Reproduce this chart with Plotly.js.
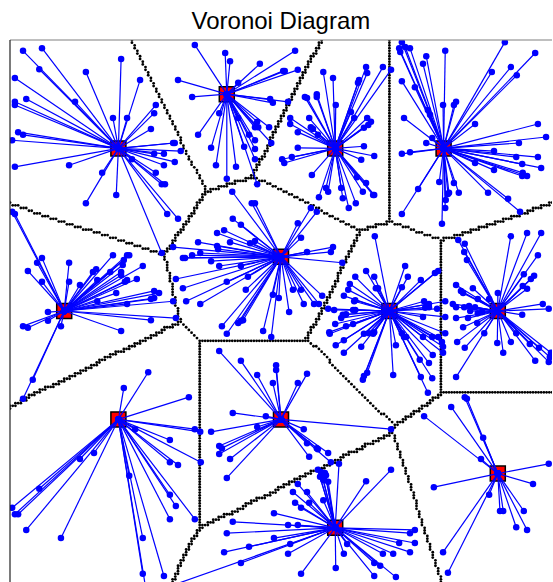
<!DOCTYPE html>
<html>
<head>
<meta charset="utf-8">
<script src="https://cdn.plot.ly/plotly-3.0.1.min.js"></script>
<style>html,body{margin:0;padding:0;background:#fff;}#chart{width:553px;height:582px;}</style>
</head>
<body>
<div id="chart"></div>
<script>
// Cluster centres (Voronoi sites)
const centersX = [0.2, 0.4, 0.6, 0.8, 0.5, 0.1, 0.7, 0.9, 0.2, 0.5, 0.6, 0.9];
const centersY = [0.8, 0.9, 0.8, 0.8, 0.6, 0.5, 0.5, 0.5, 0.3, 0.3, 0.1, 0.2];

// Points assigned to each centre
const c1x = [0.024,0.059,0.054,0.009,0.140,0.205,0.240,0.030,0.009,0.009,0.120,0.269,0.266,0.190,0.216,0.260,0.015,0.024,0.004,0.301,0.304,0.315,0.266,0.284,0.009,0.109,0.225,0.304,0.284,0.269,0.170,0.280,0.286,0.196,0.140,0.290,0.310,0.280];
const c1y = [0.980,0.985,0.946,0.930,0.941,0.965,0.926,0.891,0.886,0.880,0.886,0.880,0.865,0.856,0.856,0.836,0.830,0.825,0.815,0.810,0.810,0.795,0.790,0.790,0.766,0.769,0.780,0.775,0.769,0.755,0.755,0.734,0.734,0.714,0.699,0.679,0.670,0.607];

const c2x = [0.341,0.397,0.406,0.461,0.310,0.421,0.336,0.480,0.485,0.386,0.421,0.456,0.452,0.458,0.478,0.347,0.441,0.452,0.482,0.371,0.432,0.452,0.380,0.417,0.452,0.400,0.456,0.526,0.504,0.507,0.531,0.513];
const c2y = [0.991,0.976,0.961,0.956,0.926,0.921,0.895,0.891,0.884,0.865,0.856,0.849,0.839,0.839,0.839,0.825,0.825,0.815,0.810,0.801,0.803,0.799,0.769,0.766,0.780,0.744,0.734,0.980,0.943,0.943,0.945,0.886];

const c3x = [0.578,0.596,0.657,0.659,0.688,0.703,0.644,0.642,0.566,0.566,0.544,0.548,0.601,0.629,0.635,0.552,0.517,0.659,0.666,0.661,0.653,0.517,0.531,0.555,0.559,0.568,0.531,0.653,0.672,0.648,0.520,0.502,0.506,0.557,0.640,0.657,0.583,0.587,0.611,0.670,0.672,0.651,0.570,0.614,0.625,0.638];
const c3y = [0.941,0.930,0.950,0.939,0.950,0.945,0.926,0.921,0.900,0.895,0.895,0.893,0.880,0.867,0.856,0.856,0.856,0.856,0.849,0.843,0.838,0.845,0.830,0.839,0.836,0.825,0.801,0.804,0.786,0.779,0.784,0.780,0.773,0.751,0.747,0.736,0.727,0.720,0.727,0.714,0.714,0.720,0.710,0.708,0.690,0.699];

const c4x = [0.723,0.718,0.720,0.729,0.738,0.913,0.803,0.969,0.762,0.768,0.924,0.889,0.935,0.723,0.747,0.799,0.771,0.775,0.819,0.823,0.858,0.974,0.727,0.779,0.768,0.989,0.939,0.723,0.738,0.893,0.934,0.974,0.858,0.893,0.945,0.980,0.946,0.954,0.945,0.792,0.819,0.828,0.810,0.753,0.882,0.919,0.723,0.797,0.803,0.804,0.808,0.941];
const c4y = [0.996,0.985,0.978,0.987,0.985,0.996,0.980,0.976,0.956,0.970,0.950,0.941,0.935,0.924,0.913,0.880,0.871,0.862,0.880,0.886,0.845,0.845,0.856,0.819,0.810,0.821,0.810,0.790,0.793,0.795,0.784,0.784,0.773,0.760,0.771,0.764,0.755,0.749,0.749,0.738,0.736,0.718,0.718,0.725,0.718,0.707,0.679,0.661,0.690,0.705,0.716,0.683];

const c5x = [0.446,0.452,0.411,0.426,0.382,0.395,0.406,0.347,0.443,0.452,0.301,0.384,0.382,0.351,0.336,0.323,0.319,0.371,0.386,0.426,0.439,0.306,0.400,0.319,0.435,0.485,0.325,0.351,0.391,0.400,0.421,0.426,0.430,0.467,0.482,0.555,0.566,0.531,0.537,0.548,0.592,0.596,0.613,0.561,0.570,0.542,0.576,0.537,0.522,0.515,0.496,0.410];
const c5y = [0.699,0.699,0.670,0.659,0.644,0.649,0.627,0.627,0.625,0.629,0.618,0.614,0.620,0.607,0.603,0.598,0.598,0.592,0.583,0.583,0.563,0.559,0.554,0.542,0.539,0.530,0.518,0.513,0.472,0.458,0.478,0.482,0.483,0.463,0.452,0.690,0.683,0.662,0.635,0.609,0.609,0.618,0.589,0.513,0.513,0.513,0.528,0.539,0.539,0.498,0.524,0.720];

const c6x = [0.004,0.009,0.050,0.059,0.033,0.059,0.109,0.109,0.190,0.216,0.220,0.210,0.208,0.159,0.153,0.245,0.185,0.205,0.205,0.129,0.216,0.212,0.234,0.161,0.196,0.266,0.275,0.266,0.260,0.161,0.216,0.301,0.306,0.260,0.070,0.024,0.033,0.070,0.094,0.205,0.042,0.024];
const c6y = [0.683,0.679,0.589,0.598,0.574,0.554,0.589,0.554,0.603,0.603,0.603,0.594,0.585,0.577,0.572,0.583,0.572,0.572,0.566,0.548,0.557,0.554,0.559,0.557,0.533,0.537,0.533,0.524,0.522,0.518,0.513,0.518,0.487,0.483,0.498,0.472,0.469,0.482,0.472,0.463,0.373,0.338];

const c7x = [0.673,0.657,0.637,0.672,0.729,0.734,0.723,0.758,0.790,0.784,0.679,0.675,0.624,0.627,0.616,0.635,0.637,0.587,0.598,0.633,0.637,0.614,0.620,0.611,0.764,0.773,0.773,0.766,0.803,0.788,0.762,0.803,0.600,0.620,0.633,0.589,0.590,0.616,0.601,0.616,0.648,0.653,0.662,0.672,0.670,0.727,0.731,0.723,0.762,0.779,0.790,0.797,0.799,0.799,0.780,0.756,0.773,0.712,0.659,0.653,0.651,0.707,0.758,0.779,0.771,0.803];
const c7y = [0.638,0.574,0.563,0.563,0.583,0.563,0.544,0.557,0.574,0.570,0.542,0.542,0.539,0.550,0.528,0.518,0.520,0.504,0.502,0.502,0.502,0.493,0.494,0.487,0.518,0.513,0.507,0.506,0.518,0.504,0.489,0.489,0.476,0.472,0.476,0.461,0.458,0.446,0.437,0.423,0.434,0.458,0.459,0.461,0.458,0.452,0.452,0.459,0.452,0.452,0.452,0.443,0.434,0.423,0.419,0.410,0.404,0.437,0.386,0.380,0.373,0.382,0.378,0.376,0.349,0.459];

const c8x = [0.924,0.954,0.980,0.827,0.839,0.838,0.843,0.974,0.948,0.961,0.967,0.946,0.954,0.823,0.854,0.863,0.836,0.832,0.884,0.900,0.817,0.823,0.838,0.847,0.858,0.849,0.863,0.871,0.823,0.836,0.845,0.862,0.945,0.983,0.994,0.875,0.825,0.839,0.899,0.924,0.934,0.959,0.910,0.976,0.998,0.996,0.969,0.994,0.823];
const c8y = [0.638,0.644,0.644,0.631,0.624,0.609,0.594,0.603,0.568,0.559,0.565,0.546,0.541,0.548,0.542,0.522,0.533,0.537,0.522,0.533,0.513,0.507,0.507,0.509,0.507,0.500,0.496,0.498,0.487,0.470,0.487,0.478,0.493,0.513,0.504,0.459,0.443,0.432,0.441,0.443,0.459,0.439,0.423,0.432,0.423,0.415,0.408,0.406,0.378];

const c9x = [0.255,0.210,0.330,0.341,0.351,0.295,0.231,0.352,0.295,0.310,0.129,0.155,0.054,0.004,0.009,0.015,0.030,0.094,0.220,0.295,0.306,0.295,0.341,0.245,0.245,0.284,0.251];
const c9y = [0.387,0.358,0.341,0.282,0.277,0.262,0.282,0.221,0.221,0.216,0.227,0.238,0.172,0.137,0.125,0.125,0.096,0.081,0.196,0.161,0.140,0.116,0.116,0.081,0.015,0.011,-0.015];

const c10x = [0.411,0.472,0.456,0.371,0.386,0.391,0.386,0.406,0.400,0.491,0.491,0.531,0.548,0.542,0.548,0.566,0.568,0.587,0.592,0.552,0.703,0.386,0.426,0.456,0.485];
const c10y = [0.312,0.306,0.286,0.277,0.251,0.247,0.236,0.227,0.192,0.400,0.391,0.367,0.384,0.282,0.256,0.247,0.245,0.238,0.221,0.231,0.282,0.426,0.408,0.382,0.367];

const c11x = [0.607,0.568,0.574,0.581,0.583,0.572,0.578,0.587,0.657,0.703,0.531,0.522,0.548,0.552,0.526,0.537,0.578,0.513,0.531,0.517,0.513,0.537,0.601,0.616,0.622,0.672,0.683,0.672,0.712,0.688,0.707,0.718,0.738,0.747,0.747,0.738,0.487,0.411,0.400,0.487,0.441,0.395,0.426,0.286];
const c11y = [0.218,0.207,0.203,0.201,0.197,0.194,0.188,0.185,0.186,0.207,0.181,0.166,0.166,0.146,0.146,0.137,0.151,0.105,0.105,0.070,0.052,0.015,0.026,0.052,0.070,0.035,0.030,0.011,0.009,0.052,0.052,0.072,0.055,0.072,0.096,0.090,0.127,0.111,0.090,0.081,0.065,0.055,0.035,-0.011];

const c12x = [0.814,0.764,0.839,0.843,0.873,0.869,0.994,0.965,0.782,0.884,0.904,0.910,0.948,0.934,0.954,0.799,0.808];
const c12y = [0.323,0.306,0.341,0.338,0.266,0.227,0.218,0.181,0.175,0.161,0.131,0.131,0.131,0.101,0.096,0.055,0.017];

const clustersX = [c1x,c2x,c3x,c4x,c5x,c6x,c7x,c8x,c9x,c10x,c11x,c12x];
const clustersY = [c1y,c2y,c3y,c4y,c5y,c6y,c7y,c8y,c9y,c10y,c11y,c12y];

// Voronoi boundary: sample a grid, keep cells whose nearest centre differs from a neighbour's
const GRID_N = 200;
function nearest(x, y) {
  let best = 0, bd = Infinity;
  for (let k = 0; k < centersX.length; k++) {
    const dx = x - centersX[k], dy = y - centersY[k];
    const d = dx*dx + dy*dy;
    if (d < bd) { bd = d; best = k; }
  }
  return best;
}
const lab = [];
for (let i = 0; i <= GRID_N; i++) {
  lab.push([]);
  for (let j = 0; j <= GRID_N; j++) lab[i].push(nearest(i/GRID_N, j/GRID_N));
}
const vx = [], vy = [];
for (let i = 0; i <= GRID_N; i++) {
  for (let j = 0; j <= GRID_N; j++) {
    const l = lab[i][j];
    const r = i < GRID_N ? lab[i+1][j] : l;
    const u = j < GRID_N ? lab[i][j+1] : l;
    if (l !== r || l !== u) { vx.push(i/GRID_N); vy.push(j/GRID_N); }
  }
}

const traces = [];
traces.push({
  type: 'scatter', mode: 'markers', x: vx, y: vy, hoverinfo: 'skip',
  marker: {color: '#000000', size: 2.8, symbol: 'circle', line: {width: 0}}
});
traces.push({
  type: 'scatter', mode: 'markers', x: centersX, y: centersY,
  marker: {color: '#ff0000', size: 15, symbol: 'square', line: {color: '#000000', width: 1.5}}
});
for (let k = 0; k < clustersX.length; k++) {
  const lx = [], ly = [];
  for (let p = 0; p < clustersX[k].length; p++) {
    lx.push(centersX[k], clustersX[k][p], null);
    ly.push(centersY[k], clustersY[k][p], null);
  }
  traces.push({
    type: 'scatter', mode: 'lines+markers', x: lx, y: ly,
    line: {color: '#0000ff', width: 1.2},
    marker: {color: '#0000ff', size: 6.5}
  });
}

const layout = {
  width: 553, height: 582,
  margin: {l: 10, r: 1, t: 40, b: 0, pad: 0},
  paper_bgcolor: '#ffffff', plot_bgcolor: '#ffffff',
  showlegend: false,
  title: {text: 'Voronoi Diagram', font: {family: 'Liberation Sans, Arial, sans-serif', size: 24, color: '#000000'},
          x: 0.508, xanchor: 'center', y: 0.964, yanchor: 'middle', yref: 'container'},
  xaxis: {range: [0, 1], showgrid: false, zeroline: false, showticklabels: false, ticks: '', showline: false, fixedrange: true},
  yaxis: {range: [0, 1], showgrid: false, zeroline: false, showticklabels: false, ticks: '', showline: false, fixedrange: true},
  shapes: [
    {type: 'line', xref: 'paper', yref: 'paper', x0: 0, x1: 1, y0: 1, y1: 1, line: {color: '#808080', width: 1.2}},
    {type: 'line', xref: 'paper', yref: 'paper', x0: 0, x1: 0, y0: 0, y1: 1, line: {color: '#222222', width: 1.2}}
  ]
};

Plotly.newPlot('chart', traces, layout, {displayModeBar: false, staticPlot: true});
</script>
</body>
</html>
